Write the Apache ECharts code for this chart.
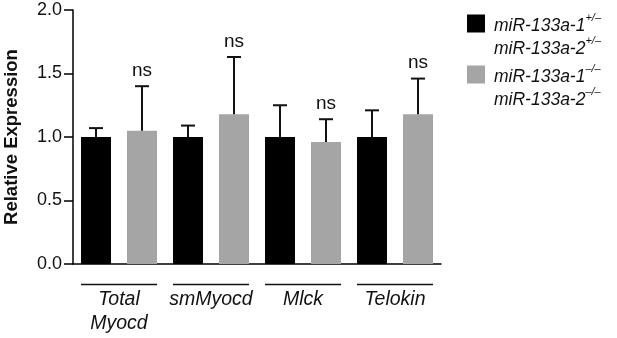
<!DOCTYPE html>
<html>
<head>
<meta charset="utf-8">
<script src="https://cdn.jsdelivr.net/npm/echarts@6/dist/echarts.min.js"></script>
<style>
  html, body { margin: 0; padding: 0; background: #fff; }
  #chart { width: 617px; height: 338px; }
</style>
</head>
<body>
<div id="chart"></div>
<script>
// gene groups, one pair of bars each
const groups = ['Total\nMyocd', 'smMyocd', 'Mlck', 'Telokin'];
// miR-133a-1+/- miR-133a-2+/- (black)
const hetMean = [1.0, 1.0, 1.0, 1.0];
const hetErr = [0.07, 0.09, 0.25, 0.21];
// miR-133a-1-/- miR-133a-2-/- (gray)
const koMean = [1.05, 1.18, 0.96, 1.18];
const koErr = [0.35, 0.45, 0.18, 0.28];
const sig = ['ns', 'ns', 'ns', 'ns'];

const hetName = 'miR-133a-1+/– miR-133a-2+/–';
const koName = 'miR-133a-1–/– miR-133a-2–/–';
const font = 'Liberation Sans, Arial, Helvetica, sans-serif';
const ink = '#111';
const gray = '#a5a5a5';

// 8 slots: het at 2i, ko at 2i+1
const slots = [];
groups.forEach(g => { slots.push(g + '-a'); slots.push(g + '-b'); });
const hetBars = [], koBars = [], errData = [];
groups.forEach((g, i) => {
  hetBars.push(hetMean[i], '-');
  koBars.push('-', koMean[i]);
  errData.push([2 * i, hetMean[i], hetMean[i] + hetErr[i], '']);
  errData.push([2 * i + 1, koMean[i], koMean[i] + koErr[i], sig[i]]);
});

function legendText(name) {
  const sup = name.indexOf('+') >= 0 ? '+/–' : '–/–';
  return '{t|miR-133a-1}{s|' + sup + '}\n{t|miR-133a-2}{s|' + sup + '}';
}
const legendRich = {
  t: { fontSize: 17.5, fontStyle: 'italic', fontFamily: font, color: ink, lineHeight: 23, verticalAlign: 'bottom' },
  s: { fontSize: 11, fontStyle: 'italic', fontFamily: font, color: ink, lineHeight: 23, verticalAlign: 'top' }
};
function legendCfg(name, top) {
  return {
    data: [{ name: name, icon: 'rect' }],
    orient: 'vertical',
    left: 467,
    top: top,
    padding: 0,
    itemWidth: 18,
    itemHeight: 18,
    selectedMode: false,
    formatter: legendText,
    textStyle: { rich: legendRich, padding: [23, 0, 0, 4] }
  };
}

const chart = echarts.init(document.getElementById('chart'), null, { renderer: 'canvas' });
const option = {
  animation: false,
  grid: { left: 73, right: 176, top: 10, bottom: 74, outerBoundsMode: 'none' },
  legend: [legendCfg(hetName, 12), legendCfg(koName, 63)],
  xAxis: [{
    type: 'category',
    data: slots,
    axisLine: { lineStyle: { color: '#000', width: 1.5 } },
    axisTick: { alignWithLabel: true, length: 8, lineStyle: { color: '#000', width: 1.5 } },
    axisLabel: { show: false }
  }, {
    type: 'category',
    data: groups,
    position: 'bottom',
    axisLine: { show: false },
    axisTick: { show: false },
    axisLabel: {
      interval: 0,
      margin: 17,
      formatter: v => '{l| }\n' + v.split('\n').map(s => '{t|' + s + '}').join('\n'),
      rich: {
        l: { width: 76, height: 1.5, lineHeight: 7, fontSize: 1, backgroundColor: ink },
        t: { fontSize: 19.5, fontStyle: 'italic', fontFamily: font, color: ink, lineHeight: 24 }
      }
    }
  }],
  yAxis: {
    type: 'value',
    min: 0,
    max: 2,
    interval: 0.5,
    name: 'Relative Expression',
    nameLocation: 'middle',
    nameGap: 52,
    nameTextStyle: { fontSize: 18.5, fontWeight: 'bold', fontFamily: font, color: ink },
    axisLine: { show: true, lineStyle: { color: '#000', width: 1.5 } },
    axisTick: { show: true, length: 9, lineStyle: { color: '#000', width: 1.5 } },
    splitLine: { show: false },
    axisLabel: {
      margin: 11,
      fontSize: 18,
      fontFamily: font,
      color: ink,
      formatter: v => v.toFixed(1)
    }
  },
  series: [{
    name: hetName,
    type: 'bar',
    data: hetBars,
    barWidth: 30,
    barGap: '-100%',
    itemStyle: { color: '#000' }
  }, {
    name: koName,
    type: 'bar',
    data: koBars,
    barWidth: 30,
    barGap: '-100%',
    itemStyle: { color: gray }
  }, {
    type: 'custom',
    data: errData,
    z: 5,
    renderItem: function (params, api) {
      const x = api.value(0);
      const lo = api.coord([x, api.value(1)]);
      const hi = api.coord([x, api.value(2)]);
      const label = errData[params.dataIndex][3];
      const half = 7;
      const children = [{
        type: 'line',
        shape: { x1: lo[0], y1: lo[1], x2: hi[0], y2: hi[1] },
        style: { stroke: ink, lineWidth: 2 }
      }, {
        type: 'line',
        shape: { x1: hi[0] - half, y1: hi[1], x2: hi[0] + half, y2: hi[1] },
        style: { stroke: ink, lineWidth: 2 }
      }];
      if (label) {
        children.push({
          type: 'text',
          style: {
            text: label, x: hi[0], y: hi[1] - 6,
            align: 'center', verticalAlign: 'bottom',
            fontSize: 19, fontFamily: font, fill: ink
          }
        });
      }
      return { type: 'group', children: children };
    }
  }]
};
chart.setOption(option);
</script>
</body>
</html>
